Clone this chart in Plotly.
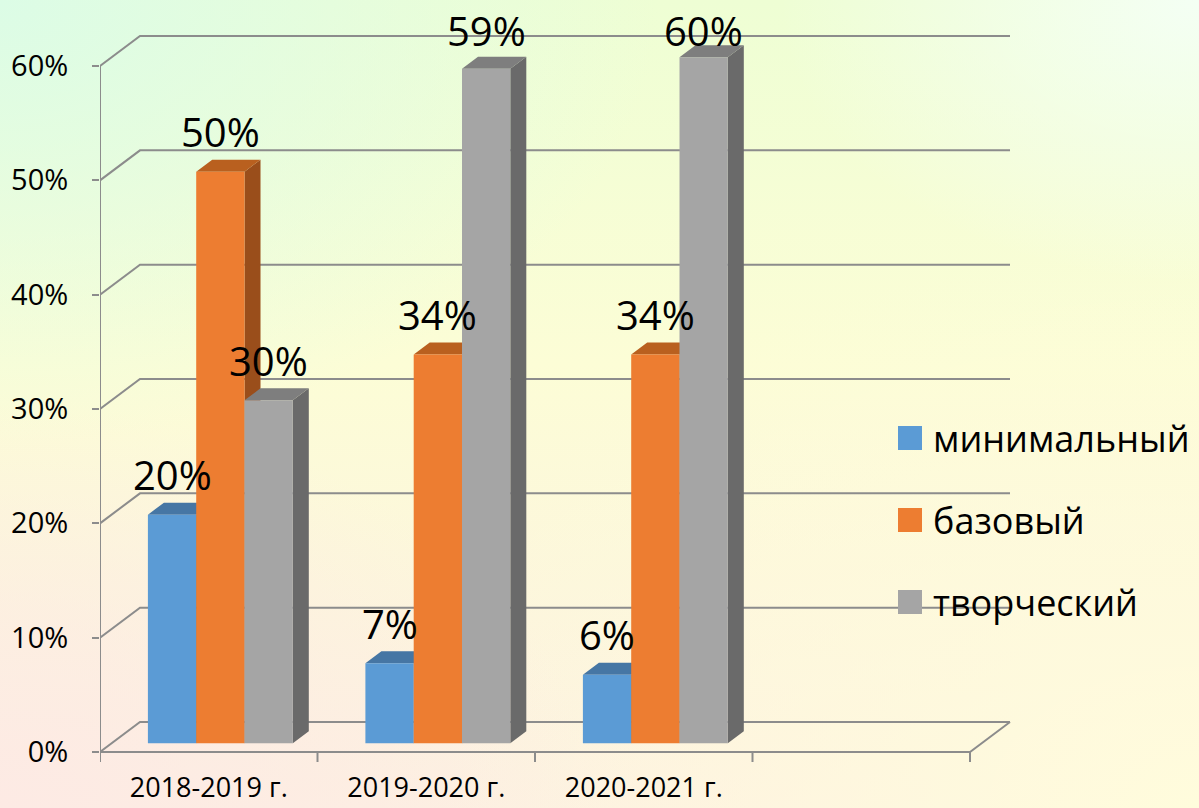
import base64
import plotly.graph_objects as go

# ---------------- data ----------------
categories = ["2018-2019 г.", "2019-2020 г.", "2020-2021 г."]
series_names = ["минимальный", "базовый", "творческий"]
minimal = [0.20, 0.07, 0.06]
basic = [0.50, 0.34, 0.34]
creative = [0.30, 0.59, 0.60]
y_ticks = [0.0, 0.1, 0.2, 0.3, 0.4, 0.5, 0.6]
y_tick_labels = ["0%", "10%", "20%", "30%", "40%", "50%", "60%"]
label_texts = [["20%", "7%", "6%"], ["50%", "34%", "34%"], ["30%", "59%", "60%"]]

series_values = [minimal, basic, creative]
front_colors = ["#5B9BD5", "#ED7D31", "#A5A5A5"]
top_colors = ["#4676A4", "#B9601F", "#7E7E7E"]
side_colors = ["#3F6C96", "#9A4E1B", "#6A6A6A"]

# ---------------- geometry (pixels -> axis units) ----------------
W, H = 1199, 808
L, R, T, B = 100, 1012, 28, 765
SLOT_PX = 217.5            # pixel width of one category slot
PX_PER_UNIT_Y = 686 / 0.6  # pixel per 100%
ZERO_PX = 752              # pixel row of the 0% front line
n_slots = 4                # 3 categories + 1 empty slot (as in the original)

ux = 1.0 / SLOT_PX
uy = 1.0 / PX_PER_UNIT_Y
x_min = -0.5
x_max = x_min + (R - L) * ux
y_min = -(B - ZERO_PX) * uy
y_max = (ZERO_PX - T) * uy

dxw, dyw = 40 * ux, 30 * uy          # depth of the back wall
dxf, dyf = 0.29 * dxw, 0.29 * dyw    # depth of the bars' front faces
ddx, ddy = 0.40 * dxw, 0.40 * dyw    # depth of the bars themselves
bar_w = 48.3 * ux
group_w = 3 * bar_w

fig = go.Figure()

# 3D faces (tops / sides), drawn beneath the front faces
for k, vals in enumerate(series_values):
    off = -group_w / 2 + k * bar_w + dxf
    tx, ty, sx, sy = [], [], [], []
    for i, v in enumerate(vals):
        xl = i + off
        xr = xl + bar_w
        b0 = dyf
        yt = dyf + v
        tx += [xl, xr, xr + ddx, xl + ddx, xl, None]
        ty += [yt, yt, yt + ddy, yt + ddy, yt, None]
        sx += [xr, xr + ddx, xr + ddx, xr, xr, None]
        sy += [b0, b0 + ddy, yt + ddy, yt, b0, None]
    fig.add_trace(go.Scatter(x=sx, y=sy, fill="toself", fillcolor=side_colors[k],
                             mode="lines", line=dict(width=0, color=side_colors[k]),
                             hoverinfo="skip", showlegend=False, zorder=0))
    fig.add_trace(go.Scatter(x=tx, y=ty, fill="toself", fillcolor=top_colors[k],
                             mode="lines", line=dict(width=0, color=top_colors[k]),
                             hoverinfo="skip", showlegend=False, zorder=0))

# front faces as real bars
for k, vals in enumerate(series_values):
    off = -group_w / 2 + k * bar_w + dxf
    fig.add_trace(go.Bar(
        x=list(range(len(categories))), y=vals, base=dyf,
        width=bar_w, offset=off, name=series_names[k],
        marker=dict(color=front_colors[k], line=dict(width=0)),
        showlegend=False, zorder=1,
    ))

# value labels
LABEL_GAP_PX = 40
LABEL_TOP_PX = 30
annotations = []
for k, vals in enumerate(series_values):
    off = -group_w / 2 + k * bar_w + dxf
    for i, v in enumerate(vals):
        y_lab = min(dyf + v + LABEL_GAP_PX * uy, (ZERO_PX - LABEL_TOP_PX) * uy)
        annotations.append(dict(
            x=i + off + bar_w / 2, y=y_lab, xref="x", yref="y",
            text=label_texts[k][i], showarrow=False,
            xanchor="center", yanchor="middle",
            font=dict(family="Open Sans", size=40, color="#000000"),
        ))

# grid (front diagonal + back wall lines) and floor
grid_col = "#8C8C8C"
shapes = []
for v in y_ticks:
    shapes.append(dict(type="path", xref="x", yref="y", layer="below",
                       path=f"M {x_min},{v} L {x_min + dxw},{v + dyw} L {3.5 + dxw},{v + dyw}",
                       line=dict(color=grid_col, width=2)))
# front vertical axis line
shapes.append(dict(type="line", xref="x", yref="y", layer="below",
                   x0=x_min, x1=x_min, y0=0, y1=y_ticks[-1],
                   line=dict(color=grid_col, width=2)))
# floor front edge + right diagonal
shapes.append(dict(type="path", xref="x", yref="y", layer="below",
                   path=f"M {x_min},0 L {n_slots - 0.5},0 L {n_slots - 0.5 + dxw},{dyw}",
                   line=dict(color=grid_col, width=2)))
# category boundary ticks
for j in range(n_slots + 1):
    xb = x_min + j
    shapes.append(dict(type="line", xref="x", yref="y", layer="below",
                       x0=xb, x1=xb, y0=0, y1=-10 * uy,
                       line=dict(color=grid_col, width=2)))

# custom legend
pw, ph = R - L, B - T
def px2paper(px, py):
    return (px - L) / pw, (B - py) / ph

legend_y_px = [438, 520, 602]
for k, name in enumerate(series_names):
    x0, y0 = px2paper(898, legend_y_px[k] + 12)
    x1, y1 = px2paper(922, legend_y_px[k] - 12)
    shapes.append(dict(type="rect", xref="paper", yref="paper", layer="above",
                       x0=x0, x1=x1, y0=y0, y1=y1,
                       fillcolor=front_colors[k], line=dict(width=0)))
    tx_, ty_ = px2paper(931, legend_y_px[k])
    annotations.append(dict(x=tx_, y=ty_, xref="paper", yref="paper", text=name,
                            showarrow=False, xanchor="left", yanchor="middle",
                            font=dict(family="Open Sans", size=36, color="#000000")))

# background gradient image
svg = f"""<svg xmlns='http://www.w3.org/2000/svg' width='{W}' height='{H}' viewBox='0 0 {W} {H}' preserveAspectRatio='none'>
<defs>
<linearGradient id='v' x1='0' y1='0' x2='0' y2='1'>
<stop offset='0' stop-color='#eefed4'/>
<stop offset='0.45' stop-color='#fcfdd6'/>
<stop offset='1' stop-color='#fdefe2'/>
</linearGradient>
<radialGradient id='tl' cx='0' cy='0' r='0.55'>
<stop offset='0' stop-color='#dcfce6' stop-opacity='1'/>
<stop offset='1' stop-color='#dcfce6' stop-opacity='0'/>
</radialGradient>
<radialGradient id='tr' cx='1' cy='0' r='0.35'>
<stop offset='0' stop-color='#f4fff4' stop-opacity='1'/>
<stop offset='1' stop-color='#f4fff4' stop-opacity='0'/>
</radialGradient>
<radialGradient id='br' cx='1' cy='1' r='0.7'>
<stop offset='0' stop-color='#fffcdc' stop-opacity='1'/>
<stop offset='1' stop-color='#fffcdc' stop-opacity='0'/>
</radialGradient>
<radialGradient id='bl' cx='0' cy='1' r='0.5'>
<stop offset='0' stop-color='#fdeae4' stop-opacity='1'/>
<stop offset='1' stop-color='#fdeae4' stop-opacity='0'/>
</radialGradient>
</defs>
<rect x='0' y='0' width='{W}' height='{H}' fill='url(#v)'/>
<rect x='0' y='0' width='{W}' height='{H}' fill='url(#br)'/>
<rect x='0' y='0' width='{W}' height='{H}' fill='url(#bl)'/>
<rect x='0' y='0' width='{W}' height='{H}' fill='url(#tl)'/>
<rect x='0' y='0' width='{W}' height='{H}' fill='url(#tr)'/>
</svg>"""
svg_uri = "data:image/svg+xml;base64," + base64.b64encode(svg.encode("utf-8")).decode("ascii")

fig.update_layout(
    width=W, height=H,
    margin=dict(l=L, r=W - R, t=T, b=H - B, pad=0, autoexpand=False),
    paper_bgcolor="#fbfbe2", plot_bgcolor="rgba(0,0,0,0)",
    showlegend=False,
    barmode="overlay",
    font=dict(family="Open Sans", color="#000000"),
    shapes=shapes, annotations=annotations,
    images=[dict(source=svg_uri, xref="paper", yref="paper",
                 x=-L / pw, y=1 + T / ph, sizex=W / pw, sizey=H / ph,
                 sizing="stretch", xanchor="left", yanchor="top", layer="below")],
    xaxis=dict(range=[x_min, x_max], tickmode="array", automargin=False,
               tickvals=list(range(len(categories))), ticktext=categories,
               ticks="", showgrid=False, zeroline=False, showline=False,
               tickfont=dict(family="Open Sans", size=27, color="#000000"),
               ticklabelstandoff=4, fixedrange=True),
    yaxis=dict(range=[y_min, y_max], tickmode="array", automargin=False,
               tickvals=y_ticks, ticktext=y_tick_labels,
               ticks="outside", ticklen=7, tickwidth=2, tickcolor=grid_col,
               showgrid=False, zeroline=False, showline=False,
               tickfont=dict(family="Open Sans", size=29, color="#000000"),
               ticklabelstandoff=18, fixedrange=True),
)

fig.write_html(
    "out.html",
    config={"displayModeBar": False},
    post_script="document.body.style.margin='0';document.body.style.overflow='hidden';",
)
